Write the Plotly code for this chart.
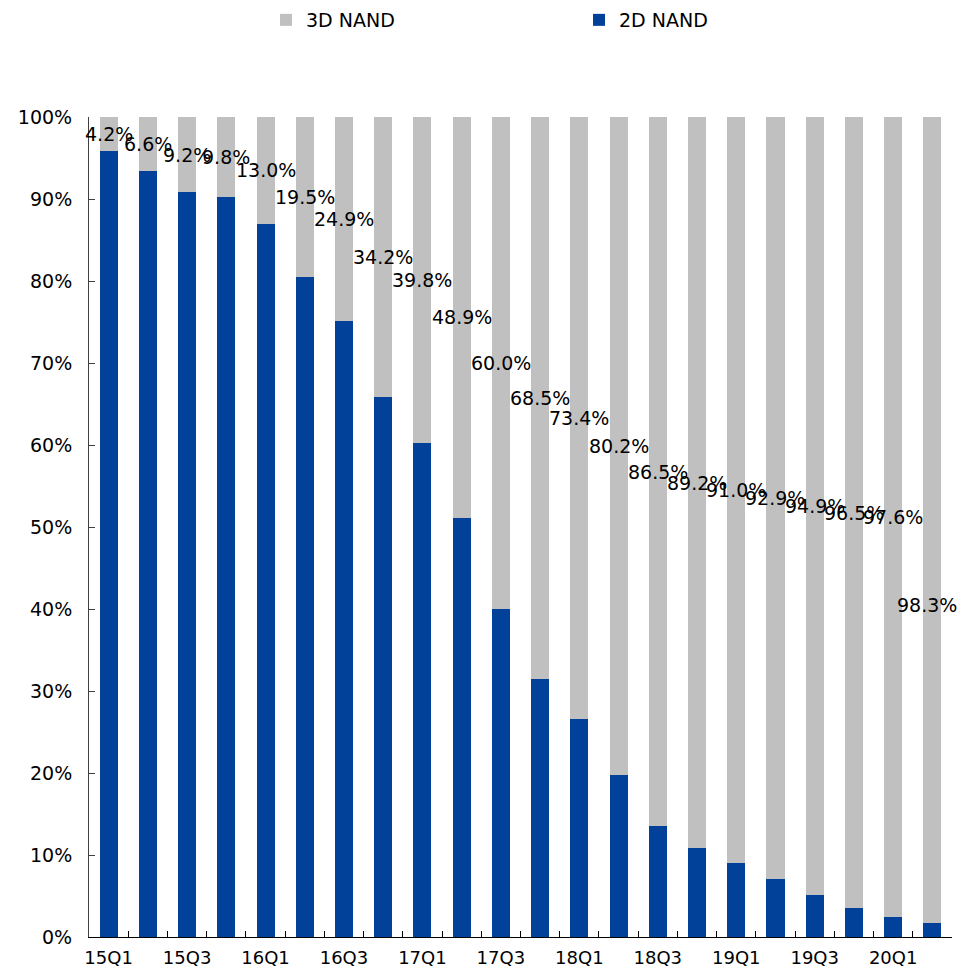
import plotly.graph_objects as go

# Quarterly NAND bit output mix, 15Q1 .. 20Q2
quarters = ["15Q1", "15Q2", "15Q3", "15Q4", "16Q1", "16Q2", "16Q3", "16Q4",
            "17Q1", "17Q2", "17Q3", "17Q4", "18Q1", "18Q2", "18Q3", "18Q4",
            "19Q1", "19Q2", "19Q3", "19Q4", "20Q1", "20Q2"]
share_3d = [4.2, 6.6, 9.2, 9.8, 13.0, 19.5, 24.9, 34.2, 39.8, 48.9, 60.0,
            68.5, 73.4, 80.2, 86.5, 89.2, 91.0, 92.9, 94.9, 96.5, 97.6, 98.3]
share_2d = [round(100 - v, 1) for v in share_3d]
tick_labels = [q if i % 2 == 0 else "" for i, q in enumerate(quarters)]

BLUE = "#01419A"
GRAY = "#C0C0C0"
FONT = "DejaVu Sans"

fig = go.Figure()
fig.add_trace(go.Bar(x=quarters, y=share_2d, name="2D NAND",
                     marker=dict(color=BLUE, line=dict(width=0))))
fig.add_trace(go.Bar(x=quarters, y=share_3d, name="3D NAND",
                     marker=dict(color=GRAY, line=dict(width=0))))

# 3D share labels, centred on the grey segment
for i, (q, v) in enumerate(zip(quarters, share_3d)):
    last = i == len(quarters) - 1
    fig.add_annotation(x=q, y=100 - v / 2, text=f"{v:.1f}%", showarrow=False,
                       font=dict(family=FONT, size=19, color="#000000"),
                       xshift=-5 if last else 0, yshift=-85 if last else 0)

fig.update_layout(
    width=964, height=976,
    barmode="stack", bargap=0.54,
    plot_bgcolor="white", paper_bgcolor="white",
    margin=dict(l=89, r=12, t=117, b=39, autoexpand=False),
    font=dict(family=FONT, size=18, color="#000000"),
    showlegend=True,
    legend=dict(orientation="h", traceorder="reversed",
                xref="container", yref="container",
                x=266 / 964, xanchor="left", y=1 - 1 / 976, yanchor="top",
                entrywidth=268, entrywidthmode="pixels",
                font=dict(family=FONT, size=19)),
)
fig.update_xaxes(type="category", tickmode="array", tickvals=quarters,
                 ticktext=tick_labels, tickangle=0, automargin=False,
                 tickson="boundaries", ticks="inside",
                 ticklen=6, tickcolor="#000000", showline=True,
                 linecolor="#000000", linewidth=1, showgrid=False,
                 ticklabelstandoff=4, tickfont=dict(size=18),
                 range=[-0.5, len(quarters) - 0.5])
fig.update_yaxes(range=[0, 100], tickvals=list(range(0, 101, 10)),
                 ticktext=[f"{v}%" for v in range(0, 101, 10)],
                 automargin=False, ticklabelstandoff=12,
                 tickfont=dict(size=19),
                 ticks="inside", ticklen=6, tickcolor="#404040",
                 showline=True, linecolor="#404040", linewidth=1,
                 showgrid=False, zeroline=False)

fig.write_html("out.html")
